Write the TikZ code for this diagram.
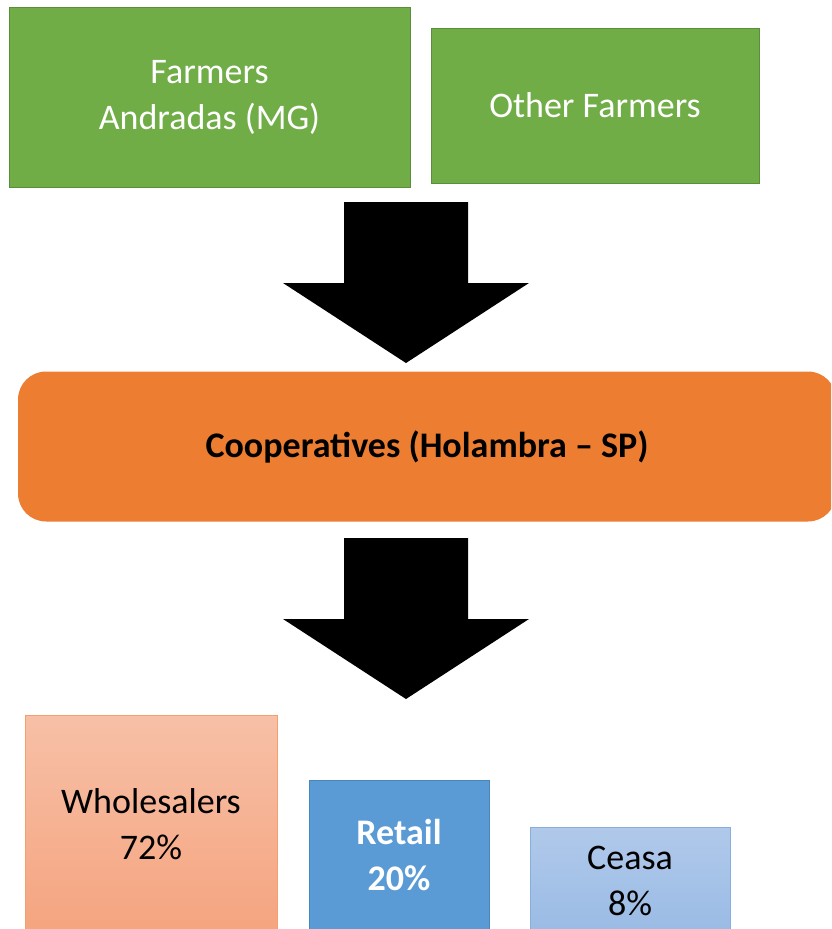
\documentclass[tikz,border=0pt]{standalone}
\usepackage{fontspec}
\setmainfont{Carlito}

\definecolor{farmgreen}{HTML}{70AD47}
\definecolor{farmline}{HTML}{5B8E3A}
\definecolor{cooporange}{HTML}{ED7D31}
\definecolor{wholetop}{HTML}{F7C0A7}
\definecolor{wholebot}{HTML}{F5A47F}
\definecolor{wholeline}{HTML}{F3A06E}
\definecolor{retailblue}{HTML}{5B9BD5}
\definecolor{retailline}{HTML}{4A86BE}
\definecolor{ceasatop}{HTML}{B0C9EA}
\definecolor{ceasabot}{HTML}{9ABBE5}
\definecolor{ceasaline}{HTML}{86AEDF}

\tikzset{
  box/.style={rectangle, inner sep=0pt, align=center, line width=1pt,
    font=\fontsize{36}{46}\selectfont},
  farmbox/.style={box, fill=farmgreen, draw=farmline, text=white},
  coopbox/.style={box, fill=cooporange, rounded corners=28pt, font=\fontsize{36}{46}\selectfont\bfseries},
  wholebox/.style={box, draw=wholeline, top color=wholetop, bottom color=wholebot},
  retailbox/.style={box, fill=retailblue, draw=retailline, text=white, font=\fontsize{36}{46}\selectfont\bfseries},
  ceasabox/.style={box, draw=ceasaline, top color=ceasatop, bottom color=ceasabot},
  downarrow/.pic={
    \fill[black] (-62,0) -- (62,0) -- (62,81) -- (123,81) -- (0,161)
      -- (-123,81) -- (-62,81) -- cycle;
  }
}

\begin{document}
\begin{tikzpicture}[x=1pt, y=-1pt]
  \useasboundingbox (0,0) rectangle (831,929);
  \clip (0,0) rectangle (831,929);

% Farmers on top
  \node[farmbox, minimum width=401pt, minimum height=180pt] (andradas) at (209.5,97.5) {Farmers\\Andradas (MG)};
  \node[farmbox, minimum width=328pt, minimum height=155pt] (others) at (595,105.5) {Other Farmers};

% First block arrow
  \coordinate (arrowone) at (406,202);
  \pic at (arrowone) {downarrow};

% Cooperative in the middle
  \node[coopbox, minimum width=818pt, minimum height=150pt] (coop) at (427,446.5) {Cooperatives (Holambra -- SP)};

% Second block arrow
  \coordinate (arrowtwo) at (406,538);
  \pic at (arrowtwo) {downarrow};

% Sales channels
  \node[wholebox, minimum width=252pt, minimum height=218pt] (wholesale) at (151,824) {Wholesalers\\72\%};
  \node[retailbox, minimum width=180pt, minimum height=151pt] (retail) at (399,855.5) {Retail\\20\%};
  \node[ceasabox, minimum width=200pt, minimum height=107pt] (ceasa) at (630,880.5) {Ceasa\\8\%};

\end{tikzpicture}
\end{document}
